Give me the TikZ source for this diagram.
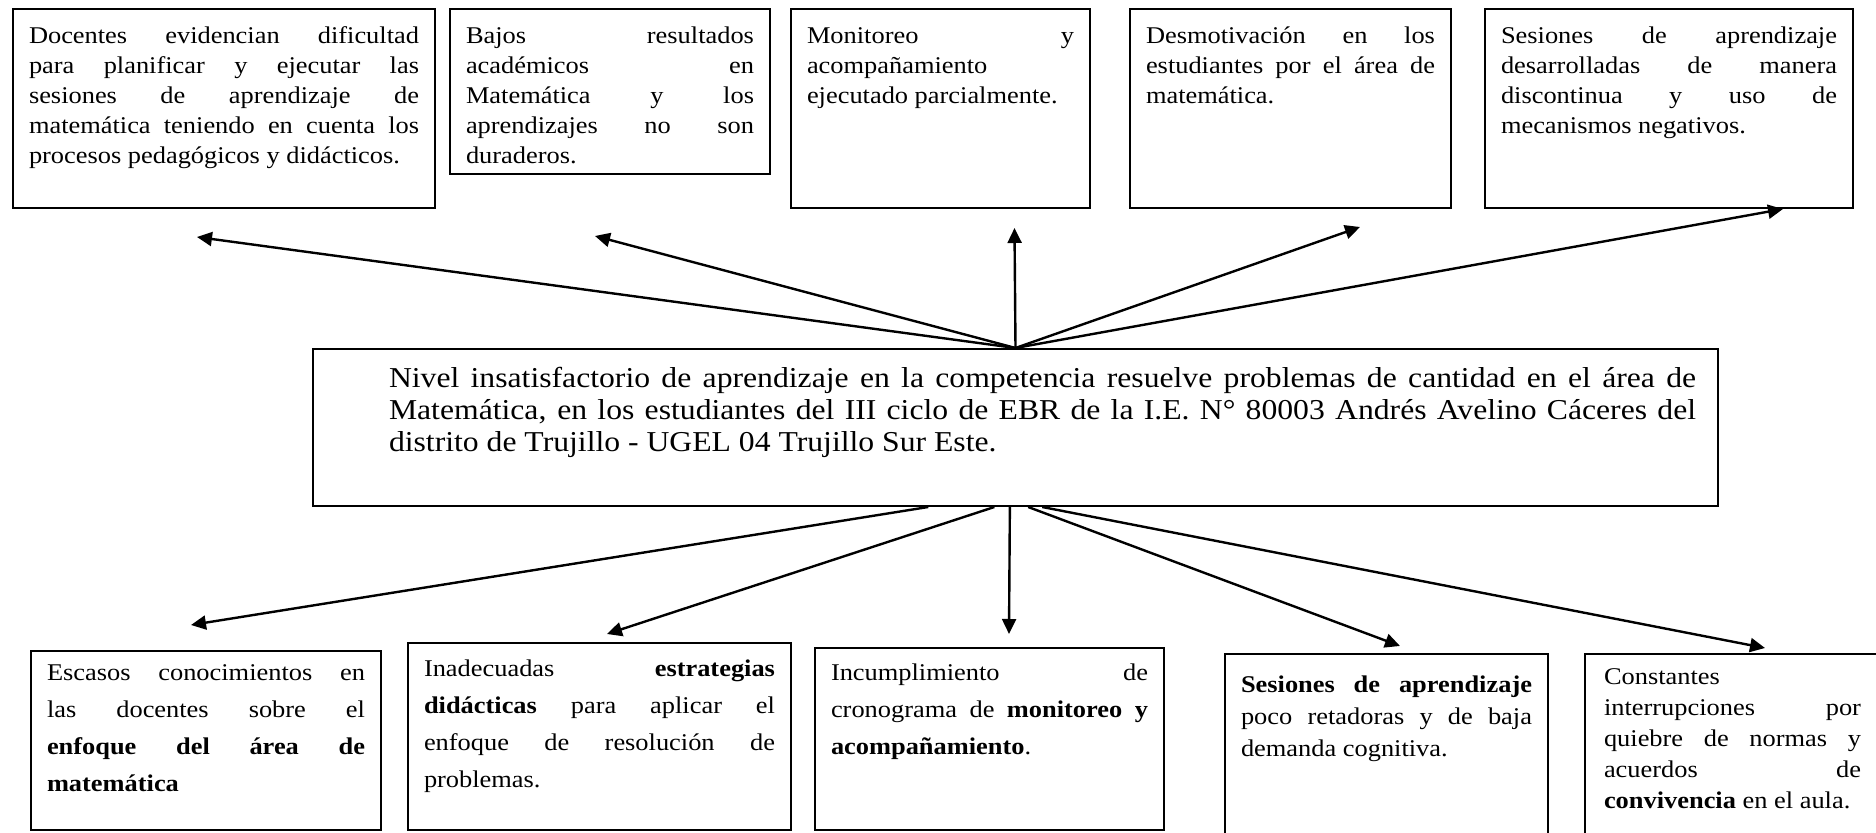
\documentclass[tikz,border=0pt]{standalone}
\usepackage{fontspec}
\setmainfont{Liberation Serif}[FakeStretch=1.1]
\usetikzlibrary{arrows.meta,calc}
\hyphenpenalty=10000
\exhyphenpenalty=10000
\tolerance=10000
\hbadness=10000
\tikzstyle{caja}=[draw, line width=1pt, anchor=north west, align=justify, inner xsep=8pt, inner ysep=0pt]
\tikzstyle{efecto}=[caja, font=\fontsize{12}{15}\selectfont, text height=17.5pt, text depth=82pt]
\tikzstyle{causa}=[caja, font=\fontsize{12}{18.5}\selectfont]
\tikzstyle{flecha}=[line width=1.2pt, -{Triangle[length=7.5pt, width=7pt]}]

\begin{document}
\begin{tikzpicture}[x=0.5pt, y=-0.5pt]
    \useasboundingbox (0,0) rectangle (1876,833);
    % efectos
    \node[efecto, text width=195pt] (ef1) at (12,8) {Docentes evidencian dificultad\linebreak para planificar y ejecutar las\linebreak sesiones de aprendizaje de\linebreak matemática teniendo en cuenta los\linebreak procesos pedagógicos y didácticos.};
    \node[efecto, text width=144pt, text depth=65pt] (ef2) at (449,8) {Bajos resultados\linebreak académicos en\linebreak Matemática y los\linebreak aprendizajes no son\linebreak duraderos.};
    \node[efecto, text width=133.5pt] (ef3) at (790,8) {Monitoreo y\linebreak acompañamiento\linebreak ejecutado parcialmente.};
    \node[efecto, text width=144.5pt] (ef4) at (1129,8) {Desmotivación en los\linebreak estudiantes por el área de\linebreak matemática.};
    \node[efecto, text width=168pt] (ef5) at (1484,8) {Sesiones de aprendizaje\linebreak desarrolladas de manera\linebreak discontinua y uso de\linebreak mecanismos negativos.};
    % problema
    \node[caja, inner xsep=11pt, text width=680.5pt, font=\fontsize{14.4}{16}\selectfont, text height=19.5pt, text depth=59pt] (nivel) at (312,348) {\leftskip=27pt Nivel insatisfactorio de aprendizaje en la competencia resuelve problemas de cantidad en el área de\linebreak Matemática, en los estudiantes del III ciclo de EBR de la I.E. N° 80003 Andrés Avelino Cáceres del\linebreak distrito de Trujillo - UGEL 04 Trujillo Sur Este.\par};
    % causas
    \node[causa, text width=159pt, text height=15pt, text depth=74.5pt] (ca1) at (30,650) {Escasos conocimientos en\linebreak las docentes sobre el\linebreak \textbf{enfoque del área de\linebreak matemática}};
    \node[causa, text width=175.5pt, text height=17pt, text depth=76.5pt] (ca2) at (407,642) {Inadecuadas \textbf{estrategias\linebreak didácticas} para aplicar el\linebreak enfoque de resolución de\linebreak problemas.};
    \node[causa, text width=158.5pt, text height=16.5pt, text depth=74.5pt] (ca3) at (814,647) {Incumplimiento de\linebreak cronograma de \textbf{monitoreo y\linebreak acompañamiento}.};
    \node[causa, text width=145.5pt, font=\fontsize{12}{16}\selectfont, text height=19.5pt, text depth=76.5pt] (ca4) at (1224,653) {\textbf{Sesiones de aprendizaje}\linebreak poco retadoras y de baja\linebreak demanda cognitiva.};
    \node[causa, text width=128.5pt, inner xsep=9.5pt, font=\fontsize{12}{15.5}\selectfont, text height=15.5pt, text depth=80.5pt] (ca5) at (1584,653) {Constantes\linebreak interrupciones por\linebreak quiebre de normas y\linebreak acuerdos de\linebreak \textbf{convivencia} en el aula.};
    % puntas de flecha
    \coordinate (p1) at (197,237);
    \coordinate (p2) at (595,236);
    \coordinate (p3) at (1014.5,228);
    \coordinate (p4) at (1360,227);
    \coordinate (p5) at (1783,209);
    \coordinate (q1) at (191,625);
    \coordinate (q2) at (607,634);
    \coordinate (q3) at (1009,634);
    \coordinate (q4) at (1400,646);
    \coordinate (q5) at (1765,648);
    \foreach \i in {1,...,5}
        \draw[flecha] (nivel.north) -- (p\i);
    \draw[flecha] ($(nivel.south west)!.438!(nivel.south east)$) -- (q1);
    \draw[flecha] ($(nivel.south west)!.485!(nivel.south east)$) -- (q2);
    \draw[flecha] ($(nivel.south west)!.496!(nivel.south east)$) -- (q3);
    \draw[flecha] ($(nivel.south west)!.509!(nivel.south east)$) -- (q4);
    \draw[flecha] ($(nivel.south west)!.519!(nivel.south east)$) -- (q5);
\end{tikzpicture}
\end{document}
